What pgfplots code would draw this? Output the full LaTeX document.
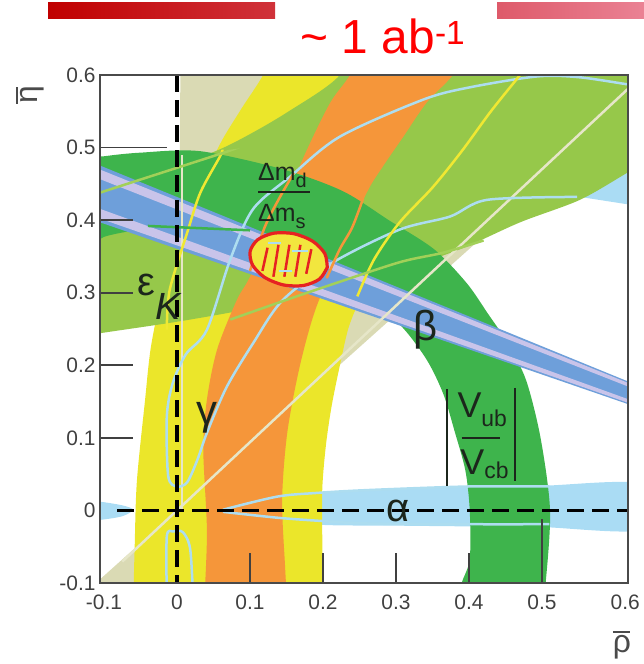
\documentclass[border=0pt]{standalone}
\usepackage{fontspec}
\setmainfont{Liberation Sans}
\usepackage{pgfplots}
\pgfplotsset{compat=1.18}

\definecolor{cBeige}{HTML}{DADAB4}
\definecolor{cBeigeLine}{HTML}{E6E6C8}
\definecolor{cYellow}{HTML}{EBE62A}
\definecolor{cYLine}{HTML}{F0E832}
\definecolor{cLGreen}{HTML}{96C84A}
\definecolor{cLGLine}{HTML}{A2D058}
\definecolor{cOrange}{HTML}{F5963A}
\definecolor{cDGreen}{HTML}{3EB44C}
\definecolor{cLBlue}{HTML}{AADCF4}
\definecolor{cLBLine}{HTML}{ADDDF0}
\definecolor{cBlue}{HTML}{6E9FDA}
\definecolor{cLav}{HTML}{C9C4EA}
\definecolor{cRed}{HTML}{E62222}
\definecolor{cEllFill}{HTML}{F2E63E}
\definecolor{axgray}{HTML}{4A4A4A}
\definecolor{tickgray}{HTML}{404040}
\definecolor{barA}{HTML}{C00000}
\definecolor{barB}{HTML}{D0323A}
\definecolor{barC}{HTML}{DE5A6A}
\definecolor{barD}{HTML}{EA8294}
\definecolor{labdark}{HTML}{1C261C}

\newcommand{\fs}[1]{\fontsize{#1}{#1}\selectfont}
\newcommand{\barred}[1]{\rlap{\rule[0.62em]{0.52em}{0.075em}}#1}

\begin{document}
\begin{tikzpicture}
\useasboundingbox (0bp,0bp) rectangle (644bp,664bp);
% header bars and title
\shade[left color=barA, right color=barB] (48bp,645bp) rectangle (275bp,661bp);
\shade[left color=barC, right color=barD] (497bp,645bp) rectangle (644bp,661bp);
\node[text=red, font=\fs{48}] at (383bp,628bp) {\char"7E\ 1 ab\textsuperscript{-1}};

\begin{axis}[
  at={(100bp,81bp)}, anchor=south west,
  width=528bp, height=508bp, scale only axis,
  xmin=-0.1055, xmax=0.6178, ymin=-0.1, ymax=0.6,
  axis on top, clip mode=individual, no markers,
  axis line style={draw=axgray, line width=1.8bp},
  tick style={draw=none},
  xtick={-0.1,0,0.1,0.2,0.3,0.4,0.5,0.614},
  xticklabels={{-0.1},{0},{0.1},{0.2},{0.3},{0.4},{0.5},{0.6}},
  ytick={-0.1,0,0.1,0.2,0.3,0.4,0.5,0.6},
  yticklabels={{-0.1},{0},{0.1},{0.2},{0.3},{0.4},{0.5},{0.6}},
  ticklabel style={font=\fs{21}, text=tickgray},
  xticklabel style={yshift=-8bp},
  yticklabel style={xshift=-1bp},
  /pgf/number format/assume math mode=true,
]
% --- alpha regions
\addplot[fill=cLBlue, draw=none, smooth] coordinates {(0.06,0.0) (0.12,0.017) (0.2,0.025) (0.3,0.029) (0.4,0.032) (0.5,0.034) (0.64,0.036) (0.64,-0.026) (0.5,-0.023) (0.4,-0.022) (0.3,-0.021) (0.2,-0.02) (0.12,-0.013) (0.06,-0.002)} -- cycle;
\addplot[fill=cLBlue, draw=none, smooth] coordinates {(-0.13,0.014) (-0.105,0.012) (-0.075,0.007) (-0.06,0.001) (-0.075,-0.008) (-0.105,-0.013) (-0.13,-0.014)} -- cycle;
\addplot[fill=cLBlue, draw=none] coordinates {(0.5,0.425) (0.552,0.432) (0.616,0.422) (0.66,0.418) (0.66,0.5) (0.5,0.46)} -- cycle;
% --- wedge from the origin
\addplot[fill=cBeige, draw=none] coordinates {(0,0) (0.005,0.65) (0.7222,0.65)} -- cycle;
\addplot[fill=cBeige, draw=none] coordinates {(0,0) (0,-0.13) (-0.1444,-0.13)} -- cycle;
% --- gamma, 2 sigma
\addplot[fill=cYellow, draw=none, smooth] coordinates {(-0.06,-0.13) (-0.058,-0.05) (-0.055,0.04) (-0.044,0.15) (-0.035,0.23) (-0.015,0.32) (0.02,0.41) (0.055,0.497) (0.086,0.55) (0.118,0.6) (0.14,0.65) (0.55,0.65) (0.45,0.55) (0.35,0.42) (0.3,0.345) (0.255,0.295) (0.236,0.255) (0.224,0.204) (0.212,0.145) (0.204,0.09) (0.199,0.03) (0.199,-0.04) (0.2,-0.13)} -- cycle;
% --- epsilon_K
\addplot[fill=cLGreen, draw=none, smooth] coordinates {(-0.13,0.24) (-0.1,0.245) (0.0,0.26) (0.1,0.278) (0.2,0.302) (0.3,0.33) (0.388,0.36) (0.47,0.397) (0.552,0.428) (0.618,0.466) (0.66,0.49) (0.66,0.66) (0.24,0.66) (0.223,0.6) (0.15,0.548) (0.086,0.511) (0.04,0.49) (-0.05,0.46) (-0.13,0.44)} -- cycle;
% --- gamma, 1 sigma
\addplot[fill=cOrange, draw=none, smooth] coordinates {(0.037,-0.13) (0.041,-0.03) (0.036,0.084) (0.041,0.153) (0.055,0.222) (0.082,0.29) (0.1,0.322) (0.14,0.41) (0.178,0.497) (0.21,0.562) (0.237,0.6) (0.262,0.65) (0.41,0.65) (0.378,0.6) (0.342,0.562) (0.31,0.515) (0.282,0.474) (0.26,0.438) (0.22,0.35) (0.189,0.275) (0.168,0.198) (0.151,0.107) (0.144,0.015) (0.148,-0.077) (0.151,-0.13)} -- cycle;
% --- Delta m ring / |Vub/Vcb|
\addplot[fill=cDGreen, draw=none, smooth] coordinates {(0.50,-0.13) (0.505,-0.1) (0.511,0.0) (0.498,0.1) (0.478,0.18) (0.452,0.232) (0.426,0.271) (0.397,0.313) (0.352,0.36) (0.29,0.40) (0.227,0.44) (0.145,0.47) (0.032,0.495) (-0.05,0.493) (-0.1,0.488) (-0.13,0.482) (-0.13,0.36) (-0.1,0.377) (-0.05,0.387) (0.0,0.39) (0.0703,0.3841) (0.1385,0.3665) (0.2025,0.3377) (0.2603,0.2987) (0.3102,0.2507) (0.343,0.206) (0.365,0.16) (0.38,0.11) (0.395,0.055) (0.401,0.0) (0.401,-0.067) (0.39,-0.1) (0.385,-0.13)} -- cycle;
% --- sin 2beta band
\addplot[fill=cBlue, draw=none] coordinates {(-0.12,0.4812) (0.64,0.1686) (0.64,0.1388) (-0.12,0.4020)} -- cycle;
\addplot[fill=cLav, draw=none] coordinates {(-0.12,0.4756) (0.64,0.1667) (0.64,0.1620) (-0.12,0.4622)} -- cycle;
\addplot[fill=cLav, draw=none] coordinates {(-0.12,0.4208) (0.64,0.1453) (0.64,0.1406) (-0.12,0.4073)} -- cycle;

% --- central lines
\addplot[draw=cBeigeLine, line width=2.5bp] coordinates {(0.007,0.0) (0.007,0.49)};
\addplot[draw=cBeigeLine, line width=2.5bp] coordinates {(-0.075,-0.0705) (0.62,0.583)};
\addplot[draw=cLBLine, line width=2.5bp, smooth] coordinates {(0.64,0.584) (0.618,0.587) (0.55,0.597) (0.493,0.598) (0.401,0.583) (0.337,0.566) (0.223,0.515) (0.155,0.46) (0.104,0.415) (0.073,0.346) (0.041,0.249) (0.012,0.215) (-0.006,0.175) (-0.014,0.129) (-0.012,0.047) (0.0,0.033) (0.014,0.039) (0.028,0.07) (0.041,0.107) (0.068,0.17) (0.104,0.23) (0.145,0.29) (0.214,0.342) (0.305,0.387) (0.374,0.405) (0.425,0.428) (0.548,0.432)};
\addplot[draw=cLBLine, line width=2.5bp, smooth] coordinates {(-0.014,-0.12) (-0.014,-0.036) (-0.005,-0.029) (0.008,-0.03) (0.018,-0.053) (0.022,-0.12)};
\addplot[draw=cLBLine, line width=2.5bp, smooth] coordinates {(0.063,0.001) (0.137,0.019) (0.19,0.024) (0.26,0.028) (0.4,0.033) (0.51,0.033)};
\addplot[draw=cLBLine, line width=2.5bp, smooth] coordinates {(0.063,-0.002) (0.137,-0.01) (0.19,-0.014) (0.26,-0.018) (0.4,-0.019) (0.51,-0.019)};
\addplot[draw=cYLine, line width=2.5bp, smooth] coordinates {(0.062,0.497) (0.059,0.488) (0.032,0.438) (0.014,0.383) (-0.01,0.304) (-0.014,0.249)};
\addplot[draw=cYLine, line width=2.5bp, smooth] coordinates {(0.47,0.6) (0.43,0.55) (0.39,0.495) (0.35,0.445) (0.305,0.397) (0.27,0.346) (0.247,0.295)};
\addplot[draw=cOrange, line width=2.5bp, smooth] coordinates {(0.16,0.465) (0.14,0.43) (0.12,0.39) (0.1,0.33)};
\addplot[draw=cOrange, line width=2.5bp, smooth] coordinates {(0.255,0.43) (0.24,0.39) (0.223,0.36) (0.205,0.32)};
\addplot[draw=cLGLine, line width=2.5bp, smooth] coordinates {(-0.12,0.432) (-0.105,0.438) (0.049,0.488) (0.07,0.495)};
\addplot[draw=cLGLine, line width=2.5bp, smooth] coordinates {(0.073,0.263) (0.141,0.287) (0.205,0.309) (0.305,0.342) (0.364,0.355) (0.42,0.372)};
\addplot[draw=cDGreen, line width=2.5bp] coordinates {(-0.04,0.392) (0.1,0.386)};

% --- projected 1/ab region
\addplot[fill=cEllFill, draw=cRed, line width=3.2bp, smooth] coordinates {(0.2058,0.3348) (0.2025,0.3539) (0.1859,0.3709) (0.1605,0.3812) (0.1331,0.3821) (0.1109,0.3733) (0.1002,0.3572) (0.1035,0.3381) (0.1201,0.3211) (0.1455,0.3108) (0.1729,0.3099) (0.1951,0.3187) (0.2058,0.3348)} -- cycle;
\addplot[draw=cRed, line width=2.5bp] coordinates {(0.117,0.330) (0.124,0.362)};
\addplot[draw=cRed, line width=2.5bp] coordinates {(0.132,0.322) (0.139,0.366)};
\addplot[draw=cRed, line width=2.5bp] coordinates {(0.147,0.322) (0.154,0.366)};
\addplot[draw=cRed, line width=2.5bp] coordinates {(0.162,0.322) (0.169,0.366)};
\addplot[draw=cRed, line width=2.5bp] coordinates {(0.177,0.326) (0.184,0.360)};
\addplot[draw=cLBLine, line width=2.2bp] coordinates {(0.125,0.368) (0.143,0.368)};
\addplot[draw=cLBLine, line width=2.2bp] coordinates {(0.158,0.358) (0.18,0.358)};
\addplot[draw=cLBLine, line width=2.2bp] coordinates {(0.14,0.33) (0.158,0.33)};

% --- reference axes
\draw[black, line width=3.5bp, dash pattern=on 17bp off 8bp] (axis cs:0,0.6) -- (axis cs:0,-0.1);
\draw[black, line width=3.5bp, dash pattern=on 17bp off 8bp] (axis cs:-0.082,0) -- (axis cs:0.6178,0);

% --- inner ticks
\draw[tickgray, line width=1.8bp] (axis cs:-0.1055,0.1) -- (axis cs:-0.06,0.1);
\draw[tickgray, line width=1.8bp] (axis cs:-0.1055,0.2) -- (axis cs:-0.06,0.2);
\draw[tickgray, line width=1.8bp] (axis cs:-0.1055,0.3) -- (axis cs:-0.06,0.3);
\draw[tickgray, line width=1.8bp] (axis cs:-0.1055,0.4) -- (axis cs:-0.06,0.4);
\draw[tickgray, line width=1.8bp] (axis cs:-0.1055,0.5) -- (axis cs:-0.0137,0.5);
\draw[tickgray, line width=1.8bp] (axis cs:0.1,-0.1) -- (axis cs:0.1,-0.058);
\draw[tickgray, line width=1.8bp] (axis cs:0.2,-0.1) -- (axis cs:0.2,-0.058);
\draw[tickgray, line width=1.8bp] (axis cs:0.3,-0.1) -- (axis cs:0.3,-0.058);
\draw[tickgray, line width=1.8bp] (axis cs:0.4,-0.1) -- (axis cs:0.4,-0.058);
\draw[tickgray, line width=1.8bp] (axis cs:0.5,-0.1) -- (axis cs:0.5,-0.012);

% --- constraint labels
\node[anchor=base west, inner sep=0, text=labdark, font=\fs{25}] at (axis cs:0.111,0.4545) {Δm\raisebox{-7bp}{\fs{20}d}};
\draw[labdark, line width=2bp] (axis cs:0.111,0.439) -- (axis cs:0.182,0.439);
\node[anchor=base west, inner sep=0, text=labdark, font=\fs{25}] at (axis cs:0.111,0.398) {Δm\raisebox{-7bp}{\fs{20}s}};
\node[anchor=base, inner sep=0, text=labdark, font=\fs{40}] at (axis cs:-0.042,0.296) {ε};
\node[anchor=base, inner sep=0, text=labdark, font=\fs{38}\itshape] at (axis cs:-0.012,0.263) {K};
\node[anchor=base, inner sep=0, text=labdark, font=\fs{42}] at (axis cs:0.041,0.118) {γ};
\node[anchor=base, inner sep=0, text=labdark, font=\fs{42}] at (axis cs:0.341,0.234) {β};
\node[anchor=base, inner sep=0, text=labdark, font=\fs{40}] at (axis cs:0.303,-0.015) {α};
\node[anchor=base west, inner sep=0, text=labdark, font=\fs{36}] at (axis cs:0.384,0.128) {V\raisebox{-9bp}{\fs{23}ub}};
\draw[labdark, line width=2bp] (axis cs:0.39,0.1) -- (axis cs:0.442,0.1);
\node[anchor=base west, inner sep=0, text=labdark, font=\fs{36}] at (axis cs:0.388,0.05) {V\raisebox{-4bp}{\fs{23}cb}};
\draw[labdark, line width=2.2bp] (axis cs:0.37,0.167) -- (axis cs:0.37,0.033);
\draw[labdark, line width=2.2bp] (axis cs:0.463,0.169) -- (axis cs:0.463,0.04);
\end{axis}

% axis names
\node[rotate=90, text=axgray, font=\fs{32}] at (30bp,569bp) {\barred{η}};
\node[text=axgray, font=\fs{32}] at (622bp,19bp) {\barred{ρ}};
\end{tikzpicture}
\end{document}
